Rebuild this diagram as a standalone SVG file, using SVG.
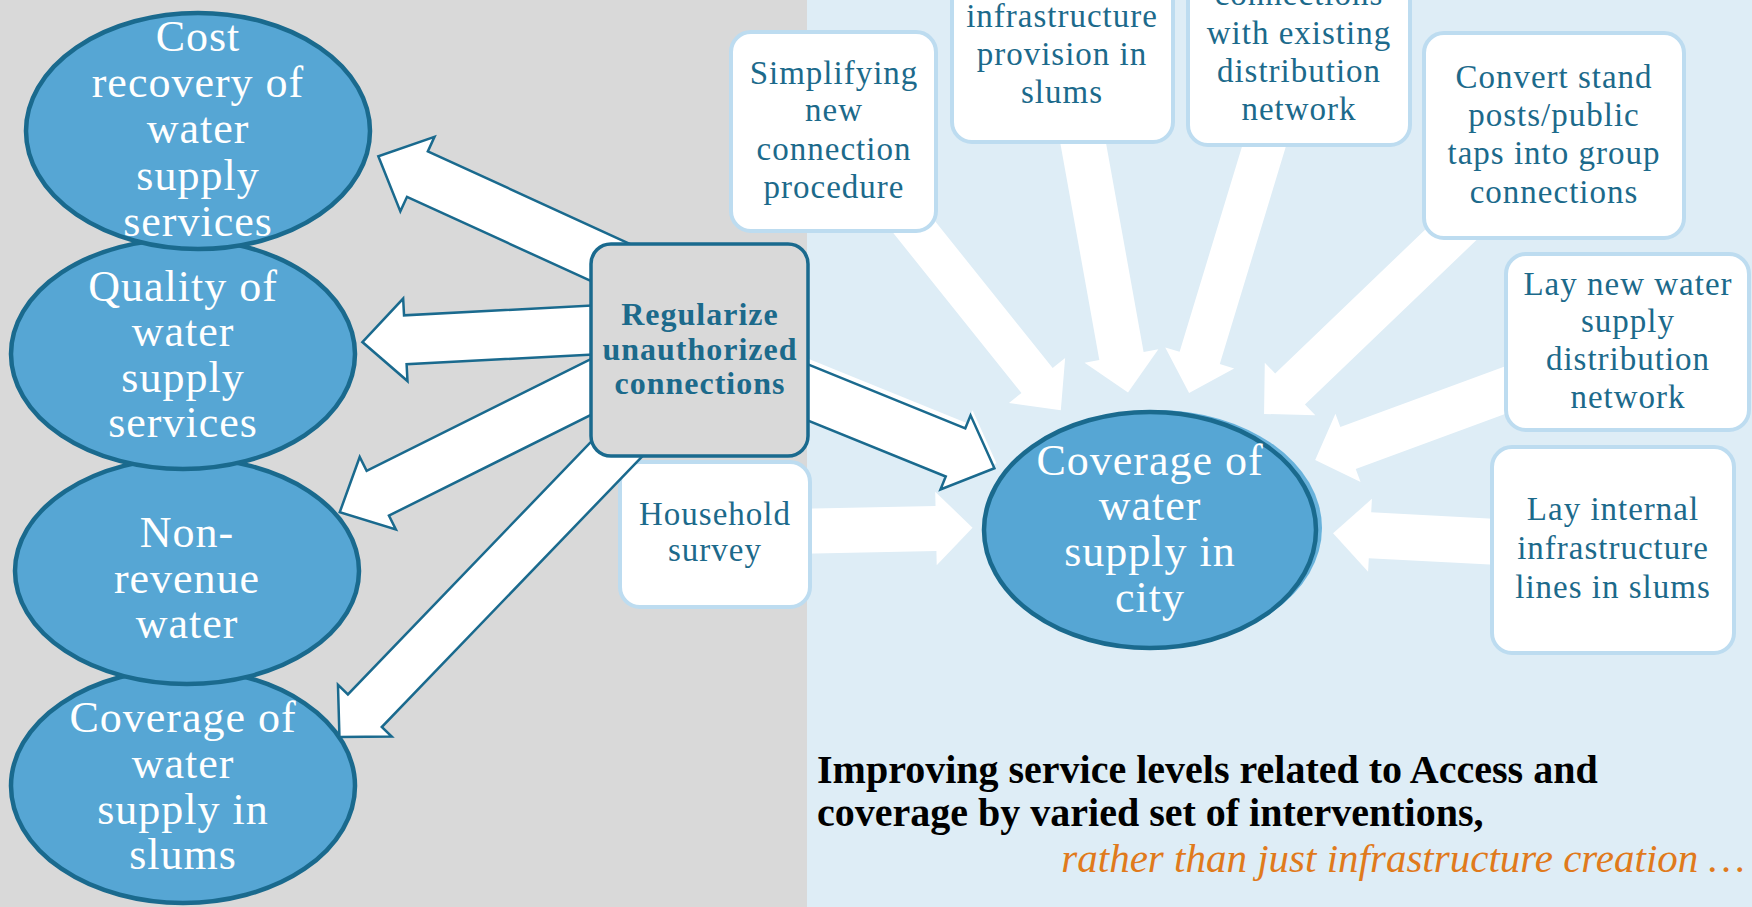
<svg xmlns="http://www.w3.org/2000/svg" width="1752" height="907" viewBox="0 0 1752 907">
<style>
.ell{fill:#56a6d4;stroke:#1a6a8e;stroke-width:4.5}
.et{fill:#ffffff;font-family:"Liberation Serif","DejaVu Serif",serif;font-size:44px;letter-spacing:1px;text-anchor:middle}
.wb{fill:#ffffff;stroke:#bddcf0;stroke-width:4}
.bt{fill:#1c6a8b;font-family:"Liberation Serif","DejaVu Serif",serif;font-size:33px;letter-spacing:1px;text-anchor:middle}
.wa{fill:#ffffff}
.la{fill:#ffffff;stroke:#1a6a8e;stroke-width:2.5;stroke-linejoin:miter}
</style>
<rect x="0" y="0" width="807" height="907" fill="#d9d9d9"/>
<rect x="807" y="0" width="945" height="907" fill="#deedf6"/>

<g id="connectors-white">
<polygon class="wa" transform="translate(899.5,208.8) rotate(51.3)" points="0,-20 220,-20 220,-36 258,0 220,36 220,20 0,20"/>
<polygon class="wa" transform="translate(1079,120) rotate(79.8)" points="0,-22.5 239.8,-22.5 239.8,-37.5 276.8,0 239.8,37.5 239.8,22.5 0,22.5"/>
<polygon class="wa" transform="translate(1272,120) rotate(106.9)" points="0,-21 248.7,-21 248.7,-36 285.2,0 248.7,36 248.7,21 0,21"/>
<polygon class="wa" transform="translate(1471.5,215) rotate(136.2)" points="0,-21.5 251.4,-21.5 251.4,-36.5 287.4,0 251.4,36.5 251.4,21.5 0,21.5"/>
<polygon class="wa" transform="translate(1530,381) rotate(159.8)" points="0,-22.3 193.9,-22.3 193.9,-36.4 228.9,0 193.9,36.4 193.9,22.3 0,22.3"/>
<polygon class="wa" transform="translate(1520,543.1) rotate(183)" points="0,-23 150.2,-23 150.2,-36.5 187.2,0 150.2,36.5 150.2,23 0,23"/>
<polygon class="wa" transform="translate(790,531.4) rotate(-1.16)" points="0,-22.5 146,-22.5 146,-36.7 182.6,0 146,36.7 146,22.5 0,22.5"/>
</g>

<g id="node-simplifying">
<rect class="wb" x="731" y="32" width="205" height="199" rx="20"/>
<text class="bt" x="834" y="84">Simplifying</text>
<text class="bt" x="834" y="121">new</text>
<text class="bt" x="834" y="160">connection</text>
<text class="bt" x="834" y="198">procedure</text>
</g>
<g id="node-infrastructure">
<rect class="wb" x="952" y="-40" width="221" height="182" rx="20"/>
<text class="bt" x="1062" y="27">infrastructure</text>
<text class="bt" x="1062" y="65">provision in</text>
<text class="bt" x="1062" y="103">slums</text>
</g>
<g id="node-connections">
<rect class="wb" x="1188" y="-40" width="222" height="185" rx="20"/>
<text class="bt" x="1299" y="5">connections</text>
<text class="bt" x="1299" y="44">with existing</text>
<text class="bt" x="1299" y="82">distribution</text>
<text class="bt" x="1299" y="120">network</text>
</g>
<g id="node-convert">
<rect class="wb" x="1424" y="33" width="260" height="205" rx="20"/>
<text class="bt" x="1554" y="88">Convert stand</text>
<text class="bt" x="1554" y="126">posts/public</text>
<text class="bt" x="1554" y="164">taps into group</text>
<text class="bt" x="1554" y="203">connections</text>
</g>
<g id="node-laynew">
<rect class="wb" x="1506" y="254" width="243" height="176" rx="20"/>
<text class="bt" x="1628" y="295">Lay new water</text>
<text class="bt" x="1628" y="332">supply</text>
<text class="bt" x="1628" y="370">distribution</text>
<text class="bt" x="1628" y="408">network</text>
</g>
<g id="node-layinternal">
<rect class="wb" x="1492" y="447" width="242" height="206" rx="20"/>
<text class="bt" x="1613" y="520">Lay internal</text>
<text class="bt" x="1613" y="559">infrastructure</text>
<text class="bt" x="1613" y="598">lines in slums</text>
</g>
<g id="node-household">
<rect class="wb" x="620" y="462" width="190" height="145" rx="20"/>
<text class="bt" x="715" y="525">Household</text>
<text class="bt" x="715" y="561">survey</text>
</g>

<g id="node-slums">
<ellipse class="ell" cx="183" cy="786" rx="172" ry="117"/>
<text class="et" x="183" y="732">Coverage of</text>
<text class="et" x="183" y="778">water</text>
<text class="et" x="183" y="824">supply in</text>
<text class="et" x="183" y="869">slums</text>
</g>
<g id="node-nonrevenue">
<ellipse class="ell" cx="187" cy="571" rx="172" ry="113"/>
<text class="et" x="187" y="547">Non-</text>
<text class="et" x="187" y="593">revenue</text>
<text class="et" x="187" y="638">water</text>
</g>
<g id="node-quality">
<ellipse class="ell" cx="183" cy="354" rx="172" ry="115"/>
<text class="et" x="183" y="301">Quality of</text>
<text class="et" x="183" y="346">water</text>
<text class="et" x="183" y="392">supply</text>
<text class="et" x="183" y="437">services</text>
</g>
<g id="node-cost">
<ellipse class="ell" cx="198" cy="131" rx="172" ry="118"/>
<text class="et" x="198" y="51">Cost</text>
<text class="et" x="198" y="97">recovery of</text>
<text class="et" x="198" y="143">water</text>
<text class="et" x="198" y="190">supply</text>
<text class="et" x="198" y="236">services</text>
</g>

<g id="connectors-outlined">
<polygon class="la" transform="translate(640,276) rotate(204.6)" points="0,-25 244.8,-25 244.8,-41 287.8,0 244.8,41 244.8,25 0,25"/>
<polygon class="la" transform="translate(640,327.5) rotate(177)" points="0,-24.5 235,-24.5 235,-41.3 278,0 235,41.3 235,24.5 0,24.5"/>
<polygon class="la" transform="translate(640,362.5) rotate(153.5)" points="0,-25 293,-25 293,-40.5 335.5,0 293,40.5 293,25 0,25"/>
<polygon class="la" transform="translate(642.2,422.5) rotate(133.9)" points="0,-23.5 400,-23.5 400,-37.3 436.6,0 400,37.3 400,23.5 0,23.5"/>
<polygon class="wa" transform="translate(775,373.3) rotate(22.1)" points="0,-26 197,-26 197,-40 239,0 197,40 197,26 0,26"/>
<polygon class="la" transform="translate(773,378.3) rotate(22.1)" points="0,-26 197,-26 197,-40 239,0 197,40 197,26 0,26"/>
</g>

<g id="node-regularize">
<rect x="591" y="244" width="217" height="212" rx="20" fill="#d9d9d9" stroke="#1a6a8e" stroke-width="3.5"/>
<text x="700" y="325" fill="#1c6a8b" font-family="Liberation Serif, DejaVu Serif, serif" font-size="32" font-weight="bold" letter-spacing="1" text-anchor="middle">Regularize</text>
<text x="700" y="360" fill="#1c6a8b" font-family="Liberation Serif, DejaVu Serif, serif" font-size="32" font-weight="bold" letter-spacing="1" text-anchor="middle">unauthorized</text>
<text x="700" y="394" fill="#1c6a8b" font-family="Liberation Serif, DejaVu Serif, serif" font-size="32" font-weight="bold" letter-spacing="1" text-anchor="middle">connections</text>
</g>

<g id="node-city">
<ellipse cx="1156" cy="528" rx="166" ry="118" fill="#68b2db"/>
<ellipse class="ell" cx="1150" cy="530" rx="166" ry="118"/>
<text class="et" x="1150" y="475">Coverage of</text>
<text class="et" x="1150" y="520">water</text>
<text class="et" x="1150" y="566">supply in</text>
<text class="et" x="1150" y="612">city</text>
</g>

<g id="caption" font-family="Liberation Serif, DejaVu Serif, serif">
<text x="817" y="783" font-size="40" font-weight="bold" fill="#000000">Improving service levels related to Access and</text>
<text x="817" y="826" font-size="40" font-weight="bold" fill="#000000">coverage by varied set of interventions,</text>
<text x="1745" y="872" font-size="41" font-style="italic" fill="#e07a1c" text-anchor="end">rather than just infrastructure creation …</text>
</g>
</svg>
